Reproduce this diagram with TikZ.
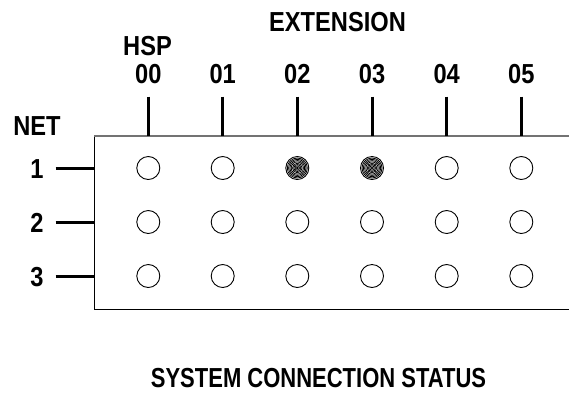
\documentclass[tikz,border=0pt]{standalone}
\usepackage{fontspec}
\setmainfont{Liberation Sans}[FakeStretch=0.86]
\begin{document}
\begin{tikzpicture}[x=1pt,y=-1pt,
  lbl/.style={anchor=base,inner sep=0pt,font=\fontsize{27.5}{30}\selectfont\bfseries},
  tick/.style={line width=3pt},
  netline/.style={line width=3pt},
  frame/.style={line width=1pt},
  port/.style={draw,circle,minimum size=23pt,inner sep=0pt,line width=0.9pt},
]
\useasboundingbox (0,0) rectangle (569,392);
% frame
\draw[frame] (94,136) -- (94,309) -- (575,309);
\draw[line width=1.6pt,black!55] (575,136) -- (94,136);
% labels
\node[lbl] (ext) at (337.5,31) {EXTENSION};
\node[lbl] (hsp) at (147.5,55) {HSP};
\node[lbl] (net) at (37,135) {NET};
\node[lbl] (title) at (318.5,387) {\scalebox{0.93}[1]{SYSTEM CONNECTION STATUS}};
\foreach \i/\x in {0/148.3,1/222.7,2/297.3,3/372,4/446.7,5/521.3}{
  \node[lbl] (c\i) at (\x,83.5) {0\i};
  \coordinate (t\i) at (\x,96.7);
  \coordinate (b\i) at (\x,136);
  \draw[tick] (t\i) -- (b\i);
}
\foreach \r/\y in {1/168,2/222,3/276}{
  \node[lbl] (n\r) at (37,\y+10) {\r};
  \coordinate (l\r) at (55.7,\y);
  \coordinate (e\r) at (94,\y);
  \draw[netline] (l\r) -- (e\r);
  \foreach \i/\x in {0/148.3,1/222.7,2/297.3,3/372,4/446.7,5/521.3}{
    \node[port] (p\r\i) at (\x,\y) {};
  }
}
% active ports: concentric rings
\foreach \i in {2,3}{
  \foreach \rad in {10,8.7,7.4,6.1,4.8,3.5,2.2,0.9}{
    \draw[line width=0.8pt] (p1\i.center) circle[radius=\rad];
  }
}
\end{tikzpicture}
\end{document}
